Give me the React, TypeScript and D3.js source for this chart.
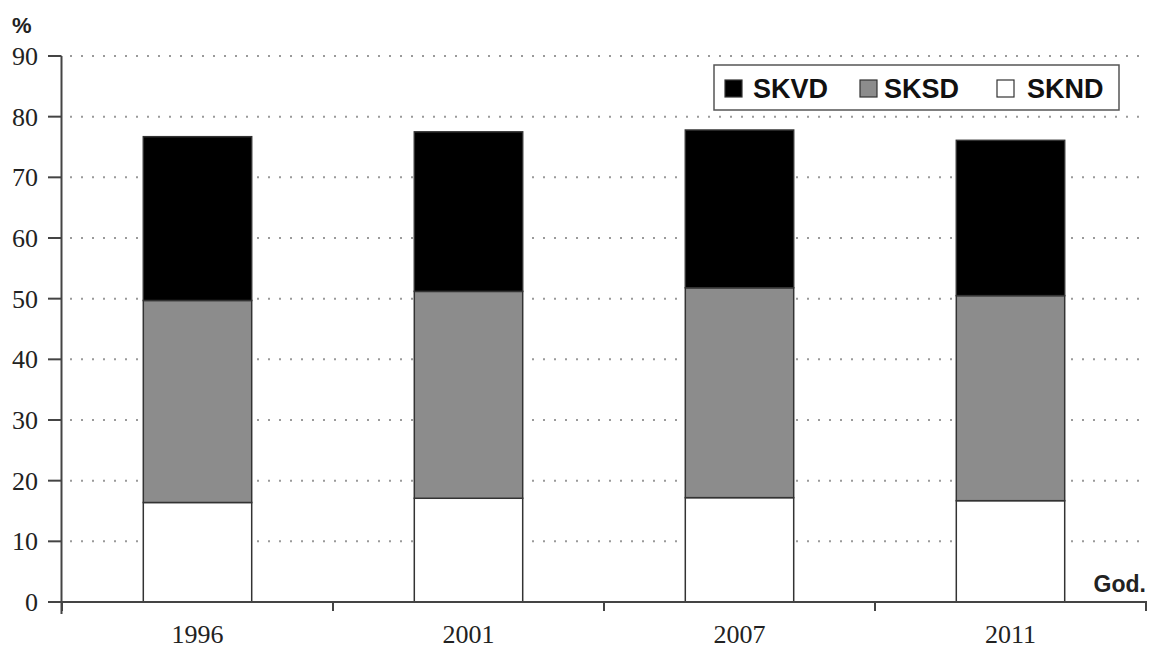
import React from "react";
import * as d3 from "d3";

const years = ["1996", "2001", "2007", "2011"];
const sknd = [16.4, 17.1, 17.2, 16.7];
const sksd = [33.3, 34.1, 34.6, 33.8];
const skvd = [27.0, 26.3, 26.0, 25.6];
const yTicks = [0, 10, 20, 30, 40, 50, 60, 70, 80, 90];
const seriesNames = ["SKVD", "SKSD", "SKND"];
const seriesColors: Record<string, string> = { SKVD: "#000000", SKSD: "#8c8c8c", SKND: "#ffffff" };

export default function App() {
  const W = 1150, H = 648;
  const x0 = 62, x1 = 1146, yTop = 56, yBot = 602;
  const x = d3.scaleBand<string>().domain(years).range([x0, x1]).paddingInner(0.6).paddingOuter(0.3);
  const y = d3.scaleLinear().domain([0, 90]).range([yBot, yTop]);
  const rows = years.map((yr, i) => ({ year: yr, SKND: sknd[i], SKSD: sksd[i], SKVD: skvd[i] }));
  const stack = d3.stack<any>().keys(["SKND", "SKSD", "SKVD"])(rows);
  const catTicks = d3.range(years.length + 1).map((i) => x0 + (i * (x1 - x0)) / years.length);
  const serif = "'Liberation Serif', 'Times New Roman', serif";
  const sans = "'Liberation Sans', Arial, sans-serif";
  const legendItems = [
    { name: "SKVD", mx: 725, tx: 753 },
    { name: "SKSD", mx: 860, tx: 884 },
    { name: "SKND", mx: 997, tx: 1027 },
  ];
  return (
    <svg width={W} height={H} style={{ position: "absolute", left: 0, top: 0, background: "#fff" }}>
      {/* gridlines */}
      {yTicks.filter((t) => t > 0).map((t) => (
        <line key={t} x1={70} x2={1148} y1={y(t)} y2={y(t)} stroke="#9a9a9a" strokeWidth={2} strokeDasharray="2,9" />
      ))}
      {/* bars */}
      {stack.map((layer) =>
        layer.map((d: any, i: number) => (
          <rect
            key={layer.key + i}
            x={x(years[i])}
            width={x.bandwidth()}
            y={y(d[1])}
            height={y(d[0]) - y(d[1])}
            fill={seriesColors[layer.key]}
            stroke="#333"
            strokeWidth={1.5}
          />
        ))
      )}
      {/* y axis */}
      <line x1={61.5} x2={61.5} y1={yTop} y2={614} stroke="#444" strokeWidth={2} />
      {yTicks.map((t) => (
        <g key={t}>
          <line x1={48} x2={61.5} y1={y(t)} y2={y(t)} stroke="#444" strokeWidth={2} />
          <text x={38} y={y(t)} dy="0.35em" textAnchor="end" fontFamily={serif} fontSize={26} fill="#222">
            {t}
          </text>
        </g>
      ))}
      {/* x axis */}
      <line x1={48} x2={1147} y1={yBot} y2={yBot} stroke="#444" strokeWidth={2} />
      {catTicks.map((cx, i) => (
        <line key={i} x1={cx} x2={cx} y1={yBot} y2={611} stroke="#444" strokeWidth={2} />
      ))}
      {years.map((yr) => (
        <text key={yr} x={(x(yr) as number) + x.bandwidth() / 2} y={643} textAnchor="middle" fontFamily={serif} fontSize={26} fill="#222">
          {yr}
        </text>
      ))}
      <text x={12} y={33} fontFamily={sans} fontWeight="bold" fontSize={22} fill="#222">%</text>
      <text x={1146} y={592} textAnchor="end" fontFamily={sans} fontWeight="bold" fontSize={23} fill="#222">God.</text>
      {/* legend */}
      <rect x={714} y={65} width={405} height={45} fill="#fff" stroke="#555" strokeWidth={1.5} />
      {legendItems.map((it) => (
        <g key={it.name}>
          <rect x={it.mx} y={80} width={17} height={17} fill={seriesColors[it.name]} stroke="#333" strokeWidth={1.2} />
          <text x={it.tx} y={98} fontFamily={sans} fontWeight="bold" fontSize={27} fill="#111">{it.name}</text>
        </g>
      ))}
    </svg>
  );
}
